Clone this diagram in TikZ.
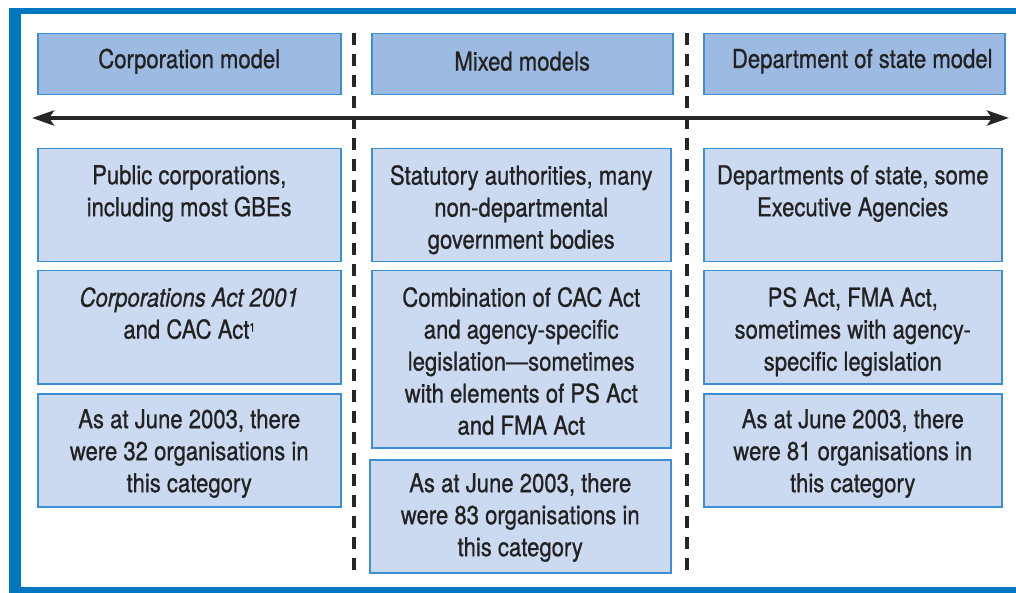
\documentclass[tikz,border=0pt]{standalone}
\usepackage{fontspec}
\setmainfont{TeX Gyre Heros}[FakeStretch=0.85, FakeBold=0.8]
\usetikzlibrary{arrows.meta}
\definecolor{frameblue}{HTML}{0077C0}
\definecolor{edgeblue}{HTML}{3B8FD2}
\definecolor{headfill}{HTML}{9DBBE2}
\definecolor{bodyfill}{HTML}{CBDAF1}
\definecolor{inkgray}{HTML}{222222}
\tikzset{
  headbox/.style={draw=edgeblue, fill=headfill, line width=1.5pt, anchor=north west, inner sep=0pt},
  bodybox/.style={draw=edgeblue, fill=bodyfill, line width=1.5pt, anchor=north west, inner sep=0pt},
  headtxt/.style={text=inkgray, inner sep=0pt, font=\fontsize{26}{32}\selectfont},
  bodytxt/.style={anchor=north, text=inkgray, align=center, inner sep=0pt, font=\fontsize{26}{32}\selectfont},
  divider/.style={line width=4pt, dash pattern=on 12pt off 9pt, black!85},
  spectrum/.style={line width=4pt, black!85, {Stealth[length=22pt,width=15pt,inset=5pt]}-{Stealth[length=22pt,width=15pt,inset=5pt]}}
}
\begin{document}
\begin{tikzpicture}[x=1pt,y=-1pt]
\useasboundingbox (0,0) rectangle (1016,593);
% outer frame: left bar, top and bottom rules
\fill[frameblue] (9,8) rectangle (21,593);
\fill[frameblue] (9,8) rectangle (1016,14);
\fill[frameblue] (9,587) rectangle (1016,593);

% column headings
\node[headbox, minimum width=303pt, minimum height=61pt] (h1) at (37,33) {};
\node[headbox, minimum width=301pt, minimum height=61pt] (h2) at (371,33) {};
\node[headbox, minimum width=301pt, minimum height=61pt] (h3) at (703,33) {};
\node[headtxt] at ([yshift=3pt]h1.center) {Corporation model};
\node[headtxt] at ([yshift=3pt]h2.center) {Mixed models};
\node[headtxt] at ([xshift=8pt,yshift=3pt]h3.center) {Department of state model};

% dividers between the columns
\coordinate (d1t) at (354,33);
\coordinate (d1b) at (354,573);
\coordinate (d2t) at (687,33);
\coordinate (d2b) at (687,573);
\draw[divider] (d1t) -- (d1b);
\draw[divider] (d2t) -- (d2b);

% spectrum arrow
\coordinate (al) at (32,118);
\coordinate (ar) at (1009,118);
\draw[spectrum] (al) -- (ar);

% left column
\node[bodybox, minimum width=303pt, minimum height=113pt] (l1) at (37,148) {};
\node[bodybox, minimum width=303pt, minimum height=113pt] (l2) at (37,270) {};
\node[bodybox, minimum width=303pt, minimum height=113pt] (l3) at (37,393) {};
\node[bodytxt] at ([yshift=-17pt]l1.north) {Public corporations,\\including most GBEs};
\node[bodytxt] at ([yshift=-17pt]l2.north) {\textit{Corporations Act 2001}\\and CAC Act\raisebox{7pt}{\fontsize{12}{12}\selectfont 1}};
\node[bodytxt] at ([yshift=-16pt]l3.north) {As at June 2003, there\\were 32 organisations in\\this category};

% middle column
\node[bodybox, minimum width=299pt, minimum height=113pt] (m1) at (371,148) {};
\node[bodybox, minimum width=299pt, minimum height=177pt] (m2) at (371,270) {};
\node[bodybox, minimum width=301pt, minimum height=113pt] (m3) at (369,459) {};
\node[bodytxt] at ([yshift=-17pt]m1.north) {Statutory authorities, many\\non-departmental\\government bodies};
\node[bodytxt] at ([yshift=-17pt]m2.north) {Combination of CAC Act\\and agency-specific\\legislation---sometimes\\with elements of PS Act\\and FMA Act};
\node[bodytxt] at ([yshift=-14pt]m3.north) {As at June 2003, there\\were 83 organisations in\\this category};

% right column
\node[bodybox, minimum width=298pt, minimum height=113pt] (r1) at (703,148) {};
\node[bodybox, minimum width=298pt, minimum height=113pt] (r2) at (703,270) {};
\node[bodybox, minimum width=298pt, minimum height=113pt] (r3) at (703,393) {};
\node[bodytxt] at ([yshift=-17pt]r1.north) {Departments of state, some\\Executive Agencies};
\node[bodytxt] at ([yshift=-17pt]r2.north) {PS Act, FMA Act,\\sometimes with agency-\\specific legislation};
\node[bodytxt] at ([yshift=-16pt]r3.north) {As at June 2003, there\\were 81 organisations in\\this category};
\end{tikzpicture}
\end{document}
